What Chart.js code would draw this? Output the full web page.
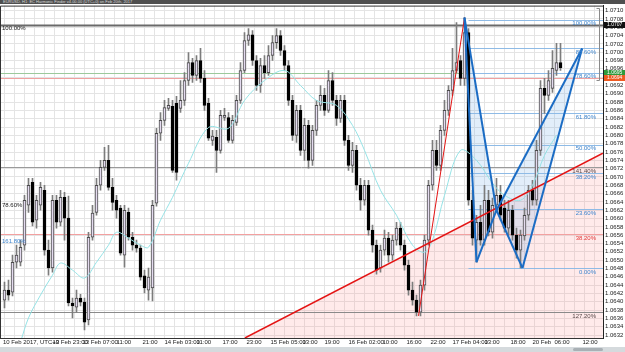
<!DOCTYPE html>
<html>
<head>
<meta charset="utf-8">
<script src="https://cdn.jsdelivr.net/npm/chart.js@4.4.1/dist/chart.umd.min.js"></script>
<style>
  html, body { margin: 0; padding: 0; background: #fff; }
  #wrap { position: relative; width: 625px; height: 352px; overflow: hidden; }
  #title { position: absolute; left: 0; top: 0; width: 625px; height: 4px; background: #4f4f4f; color: #d8d8d8;
           font: 4px 'Liberation Sans', sans-serif; line-height: 4px; padding-left: 3px; box-sizing: border-box; white-space: nowrap; }
  #scroll { position: absolute; left: 0; top: 347px; width: 625px; height: 5px; background: #d5dadd; }
  #thumb { position: absolute; left: 573px; top: 1px; width: 30px; height: 3px; background: #a9b0b5; border-radius: 2px; }
</style>
</head>
<body>
<div id="wrap">
  <canvas id="chart" width="625" height="352"></canvas>
  <div id="title">EURUSD, H1: EC Harmonic Finder v4.00.00 (UTC+0) on Feb 20th, 2017</div>
  <div id="scroll"><div id="thumb"></div></div>
</div>
<script>
// hourly candles, index 0 = first bar on the left
const open = [
  1.06404, 1.06428, 1.06423, 1.06495, 1.06495, 1.06536, 1.06632, 1.06687, 1.06596, 1.06632,
  1.06668, 1.06524, 1.06481, 1.06644, 1.06591, 1.06651, 1.06601, 1.06397, 1.06387, 1.06409,
  1.06399, 1.06356, 1.06555, 1.06615, 1.06680, 1.06723, 1.06740, 1.06675, 1.06644, 1.06625,
  1.06512, 1.06615, 1.06555, 1.06536, 1.06529, 1.06462, 1.06428, 1.06433, 1.06637, 1.06805,
  1.06836, 1.06865, 1.06870, 1.06877, 1.06865, 1.06884, 1.06932, 1.06975, 1.06944, 1.06980,
  1.06937, 1.06877, 1.06788, 1.06795, 1.06764, 1.06843, 1.06843, 1.06788, 1.06831, 1.06884,
  1.06956, 1.07028, 1.07042, 1.06980, 1.06920, 1.06968, 1.06951, 1.06992, 1.07023, 1.07040,
  1.07004, 1.06968, 1.06884, 1.06800, 1.06860, 1.06764, 1.06824, 1.06740, 1.06812, 1.06872,
  1.06896, 1.06860, 1.06932, 1.06884, 1.06841, 1.06884, 1.06788, 1.06728, 1.06764, 1.06680,
  1.06644, 1.06680, 1.06572, 1.06536, 1.06481, 1.06524, 1.06553, 1.06512, 1.06548, 1.06577,
  1.06536, 1.06488, 1.06428, 1.06404, 1.06375, 1.06440, 1.06548, 1.06680, 1.06764, 1.06728,
  1.06812, 1.06860, 1.06908, 1.06956, 1.06980, 1.06937, 1.07047, 1.06644, 1.06548, 1.06591,
  1.06548, 1.06644, 1.06567, 1.06632, 1.06656, 1.06625, 1.06577, 1.06620, 1.06560, 1.06524,
  1.06558, 1.06608, 1.06668, 1.06644, 1.06764, 1.06913, 1.06896, 1.06913, 1.06956, 1.06975
];
const high = [
  1.06447, 1.06452, 1.06512, 1.06536, 1.06548, 1.06656, 1.06697, 1.06697, 1.06656, 1.06687,
  1.06680, 1.06548, 1.06656, 1.06656, 1.06668, 1.06663, 1.06654, 1.06409, 1.06428, 1.06418,
  1.06409, 1.06567, 1.06632, 1.06697, 1.06740, 1.06771, 1.06776, 1.06697, 1.06656, 1.06632,
  1.06632, 1.06625, 1.06567, 1.06548, 1.06536, 1.06476, 1.06481, 1.06644, 1.06817, 1.06855,
  1.06884, 1.06889, 1.06884, 1.06894, 1.06932, 1.06951, 1.06999, 1.06985, 1.06992, 1.07009,
  1.06956, 1.06889, 1.06812, 1.06812, 1.06860, 1.06865, 1.06855, 1.06848, 1.06896, 1.06975,
  1.07047, 1.07057, 1.07052, 1.06992, 1.06985, 1.06992, 1.07016, 1.07040, 1.07057, 1.07052,
  1.07016, 1.06980, 1.06896, 1.06872, 1.06872, 1.06841, 1.06836, 1.06824, 1.06884, 1.06920,
  1.06913, 1.06956, 1.06951, 1.06896, 1.06896, 1.06896, 1.06800, 1.06783, 1.06776, 1.06697,
  1.06692, 1.06692, 1.06584, 1.06548, 1.06536, 1.06572, 1.06567, 1.06560, 1.06591, 1.06591,
  1.06548, 1.06500, 1.06447, 1.06416, 1.06452, 1.06560, 1.06692, 1.06788, 1.06788, 1.06824,
  1.06884, 1.06920, 1.07009, 1.07071, 1.06992, 1.07083, 1.07057, 1.06668, 1.06608, 1.06632,
  1.06680, 1.06668, 1.06649, 1.06697, 1.06680, 1.06644, 1.06644, 1.06632, 1.06577, 1.06572,
  1.06625, 1.06680, 1.06692, 1.06788, 1.06932, 1.06937, 1.06956, 1.07004, 1.07021, 1.07021
];
const low = [
  1.06385, 1.06404, 1.06414, 1.06481, 1.06486, 1.06524, 1.06615, 1.06582, 1.06577, 1.06620,
  1.06512, 1.06464, 1.06471, 1.06577, 1.06582, 1.06548, 1.06390, 1.06361, 1.06375, 1.06390,
  1.06332, 1.06344, 1.06548, 1.06608, 1.06668, 1.06716, 1.06668, 1.06620, 1.06601, 1.06512,
  1.06483, 1.06548, 1.06524, 1.06519, 1.06452, 1.06421, 1.06404, 1.06402, 1.06630, 1.06788,
  1.06824, 1.06860, 1.06711, 1.06692, 1.06855, 1.06872, 1.06920, 1.06927, 1.06932, 1.06927,
  1.06860, 1.06788, 1.06776, 1.06711, 1.06757, 1.06836, 1.06783, 1.06781, 1.06824, 1.06877,
  1.06951, 1.07016, 1.06968, 1.06908, 1.06903, 1.06937, 1.06944, 1.06980, 1.07009, 1.06992,
  1.06956, 1.06872, 1.06788, 1.06783, 1.06752, 1.06740, 1.06721, 1.06728, 1.06800, 1.06860,
  1.06848, 1.06855, 1.06872, 1.06824, 1.06831, 1.06776, 1.06716, 1.06711, 1.06668, 1.06620,
  1.06632, 1.06560, 1.06519, 1.06466, 1.06471, 1.06512, 1.06495, 1.06500, 1.06536, 1.06524,
  1.06476, 1.06416, 1.06392, 1.06366, 1.06366, 1.06428, 1.06536, 1.06668, 1.06716, 1.06716,
  1.06800, 1.06848, 1.06896, 1.06951, 1.06920, 1.06920, 1.06632, 1.06536, 1.06495, 1.06536,
  1.06536, 1.06558, 1.06553, 1.06615, 1.06596, 1.06567, 1.06560, 1.06548, 1.06505, 1.06481,
  1.06548, 1.06596, 1.06632, 1.06632, 1.06752, 1.06853, 1.06884, 1.06903, 1.06944, 1.06956
];
const close = [
  1.06428, 1.06416, 1.06495, 1.06512, 1.06531, 1.06644, 1.06680, 1.06591, 1.06644, 1.06675,
  1.06524, 1.06481, 1.06644, 1.06591, 1.06651, 1.06601, 1.06397, 1.06390, 1.06409, 1.06399,
  1.06351, 1.06555, 1.06613, 1.06680, 1.06723, 1.06740, 1.06675, 1.06639, 1.06620, 1.06517,
  1.06620, 1.06555, 1.06536, 1.06529, 1.06459, 1.06433, 1.06459, 1.06632, 1.06805, 1.06836,
  1.06867, 1.06872, 1.06716, 1.06711, 1.06884, 1.06932, 1.06975, 1.06944, 1.06980, 1.06937,
  1.06872, 1.06793, 1.06798, 1.06764, 1.06848, 1.06848, 1.06788, 1.06836, 1.06884, 1.06956,
  1.07028, 1.07042, 1.06980, 1.06920, 1.06968, 1.06951, 1.06992, 1.07023, 1.07040, 1.07004,
  1.06968, 1.06884, 1.06800, 1.06860, 1.06764, 1.06824, 1.06740, 1.06812, 1.06872, 1.06896,
  1.06860, 1.06932, 1.06884, 1.06841, 1.06884, 1.06788, 1.06728, 1.06764, 1.06680, 1.06644,
  1.06680, 1.06572, 1.06536, 1.06476, 1.06524, 1.06553, 1.06512, 1.06548, 1.06577, 1.06536,
  1.06488, 1.06428, 1.06404, 1.06375, 1.06440, 1.06548, 1.06680, 1.06764, 1.06728, 1.06812,
  1.06860, 1.06908, 1.06956, 1.06975, 1.06937, 1.07047, 1.06644, 1.06553, 1.06591, 1.06548,
  1.06644, 1.06567, 1.06632, 1.06656, 1.06608, 1.06577, 1.06620, 1.06560, 1.06524, 1.06560,
  1.06608, 1.06668, 1.06644, 1.06764, 1.06913, 1.06896, 1.06932, 1.06961, 1.06975, 1.06963
];

// moving average, read at a few bars
const maIdx = [4, 6, 9, 12, 14, 17, 20, 23, 26, 28, 31, 34, 36, 39, 42, 46, 51, 56, 60, 65,
  70, 74, 78, 83, 87, 90, 94, 98, 102, 105, 107, 110, 114, 118, 122, 125, 129, 132, 135, 138];
const maPrice = [1.06303, 1.06361, 1.06416, 1.06464, 1.06493, 1.06476, 1.06457, 1.06495, 1.06536, 1.06567,
  1.06553, 1.06536, 1.06531, 1.06596, 1.06651, 1.06733, 1.06819, 1.06817, 1.06884, 1.06932,
  1.06956, 1.06920, 1.06884, 1.06872, 1.06824, 1.06764, 1.06668, 1.06608, 1.06536, 1.06519,
  1.06548, 1.06656, 1.06764, 1.06740, 1.06685, 1.06656, 1.06644, 1.06680, 1.06752, 1.06800];

// time axis labels (bar position of each label)
const timePos = [-0.4, 12, 19.5, 28, 34.5, 40, 48, 54.5, 60.5, 66.5, 74.5, 80, 86, 94.5, 100.5, 106.5,
  112, 120, 126.5, 132, 137.5, 144.5];
const timeLabels = ['10 Feb 2017, UTC+0', '13 Feb 23:00', '13 Feb 07:00', '11:00', '21:00', '14 Feb 03:00',
  '11:00', '17:00', '23:00', '15 Feb 05:00', '13:00', '19:00', '16 Feb 02:00', '10:00', '16:00', '22:00',
  '17 Feb 04:00', '13:00', '18:00', '20 Feb', '06:00', '12:00'];

// harmonic pattern X, A, B, C, D
const patIdx = [115, 118, 123, 129.5, 144.4];
const patPrice = [1.07083, 1.06495, 1.06620, 1.06481, 1.07009];

// retracement levels of the pattern
const fibLabels = ['100.00%', '88.60%', '78.60%', '61.80%', '50.00%', '38.20%', '23.60%', '0.00%'];
const fibPrice = [1.07078, 1.07009, 1.06951, 1.06853, 1.06778, 1.06709, 1.06622, 1.06481];

// full width levels
const extLabels = ['141.40%', '38.20%', '127.20%'];
const extPrice = [1.06723, 1.06562, 1.06375];
const leftLabels = ['100.00%', '78.60%', '161.80%'];
const leftPrice = [1.07057, 1.06632, 1.06546];
const topLine = 1.07066;
const bidPrice = 1.06951;
const askPrice = 1.06939;

// price range marker at the right edge
const rangeTop = 1.07107;
const rangeBottom = 1.06932;

// trend lines
const trendIdx = [60.1, 149.6];
const trendPrice = [1.06313, 1.06757];
const legIdx = [103.5, 115];
const legPrice = [1.06366, 1.07083];

const bull = open.map((o, i) => close[i] >= o);

const overlay = {
  id: 'overlay',
  beforeDatasetsDraw(chart) {
    const {ctx, chartArea: a, scales: {x, y}} = chart;
    const X = v => x.getPixelForValue(v);
    const Y = v => Math.round(y.getPixelForValue(v)) + 0.5;
    ctx.save();
    ctx.beginPath();
    ctx.rect(a.left, a.top, a.width, a.height);
    ctx.clip();

    // pink zone under the long trend line
    ctx.fillStyle = 'rgba(255,150,150,0.2)';
    ctx.beginPath();
    ctx.moveTo(X(trendIdx[0]), y.getPixelForValue(trendPrice[0]));
    ctx.lineTo(X(trendIdx[1]), y.getPixelForValue(trendPrice[1]));
    ctx.lineTo(X(trendIdx[1]), a.bottom);
    ctx.lineTo(X(trendIdx[0]), a.bottom);
    ctx.fill();

    // pattern triangles
    ctx.fillStyle = 'rgba(110,170,230,0.2)';
    [[0, 1, 2], [2, 3, 4]].forEach(tri => {
      ctx.beginPath();
      tri.forEach((k, j) => {
        const fn = j ? 'lineTo' : 'moveTo';
        ctx[fn](X(patIdx[k]), y.getPixelForValue(patPrice[k]));
      });
      ctx.closePath();
      ctx.fill();
    });

    const hline = (x0, x1, v, color, w) => {
      ctx.strokeStyle = color;
      ctx.lineWidth = w;
      ctx.beginPath();
      ctx.moveTo(x0, Y(v));
      ctx.lineTo(x1, Y(v));
      ctx.stroke();
    };
    hline(a.left, a.right, topLine, '#6a6a6a', 2);
    hline(a.left, a.right, bidPrice, '#9cc99c', 1);
    hline(a.left, a.right, askPrice, '#f0a0a0', 1);
    const extColors = ['#9a9a9a', '#f3a0a0', '#8a8a8a'];
    extPrice.forEach((v, k) => hline(a.left, a.right, v, extColors[k], 1));
    fibPrice.forEach(v => hline(X(patIdx[0] + 1), a.right, v, '#8fbbe6', 1));
    ctx.restore();
  },
  afterDatasetsDraw(chart) {
    const {ctx, chartArea: a, scales: {x, y}} = chart;
    const X = v => x.getPixelForValue(v);
    const P = v => y.getPixelForValue(v);
    ctx.save();
    ctx.beginPath();
    ctx.rect(a.left, a.top, a.width, a.height);
    ctx.clip();

    // red lines
    ctx.strokeStyle = '#e41414';
    ctx.lineWidth = 1.6;
    ctx.beginPath();
    ctx.moveTo(X(trendIdx[0]), P(trendPrice[0]));
    ctx.lineTo(X(trendIdx[1]), P(trendPrice[1]));
    ctx.stroke();
    ctx.lineWidth = 1;
    ctx.beginPath();
    ctx.moveTo(X(legIdx[0]), P(legPrice[0]));
    ctx.lineTo(X(legIdx[1]), P(legPrice[1]));
    ctx.stroke();

    // pattern legs
    ctx.strokeStyle = '#1b6cc4';
    ctx.lineWidth = 2;
    [[0, 1], [1, 2], [2, 3], [3, 4], [0, 2], [2, 4]].forEach(([p, q]) => {
      ctx.beginPath();
      ctx.moveTo(X(patIdx[p]), P(patPrice[p]));
      ctx.lineTo(X(patIdx[q]), P(patPrice[q]));
      ctx.stroke();
    });

    // range marker
    const rx = Math.round(a.right) - 3.5;
    ctx.strokeStyle = '#8a8a8a';
    ctx.lineWidth = 1;
    ctx.beginPath();
    ctx.moveTo(rx - 3, Math.round(P(rangeTop)) + 0.5);
    ctx.lineTo(rx, Math.round(P(rangeTop)) + 0.5);
    ctx.lineTo(rx, Math.round(P(rangeBottom)) + 0.5);
    ctx.lineTo(rx - 3, Math.round(P(rangeBottom)) + 0.5);
    ctx.stroke();

    // level texts
    ctx.font = '6px "Liberation Sans", sans-serif';
    ctx.textBaseline = 'middle';
    ctx.textAlign = 'right';
    ctx.fillStyle = '#3f86cf';
    fibLabels.forEach((t, k) => ctx.fillText(t, a.right - 7, P(fibPrice[k]) + 4));
    const extText = ['#5a4a4a', '#e33a3a', '#5a4a4a'];
    extLabels.forEach((t, k) => {
      ctx.fillStyle = extText[k];
      ctx.fillText(t, a.right - 7, P(extPrice[k]) + 4);
    });
    ctx.textAlign = 'left';
    const leftText = ['#222', '#222', '#3f86cf'];
    leftLabels.forEach((t, k) => {
      ctx.fillStyle = leftText[k];
      ctx.fillText(t, a.left + 2, P(leftPrice[k]));
    });
    ctx.restore();
  },
  afterDraw(chart) {
    const {ctx, chartArea: a, scales: {y}} = chart;
    ctx.save();
    // frame
    ctx.strokeStyle = '#333';
    ctx.lineWidth = 1;
    ctx.beginPath();
    ctx.moveTo(a.left + 0.5, a.bottom);
    ctx.lineTo(a.left + 0.5, a.top + 0.5);
    ctx.lineTo(a.right, a.top + 0.5);
    ctx.stroke();
    // price boxes on the axis
    const box = (v, bg) => {
      const yy = Math.round(y.getPixelForValue(v));
      ctx.fillStyle = bg;
      ctx.fillRect(a.right + 1, yy - 3, 21, 6);
      ctx.fillStyle = '#fff';
      ctx.font = '5px "Liberation Sans", sans-serif';
      ctx.textAlign = 'left';
      ctx.textBaseline = 'middle';
      ctx.fillText(v.toFixed(4), a.right + 4, yy);
    };
    box(topLine, '#111');
    box(bidPrice, '#2f9a3c');
    box(askPrice, '#ef5a22');
    ctx.restore();
  }
};

new Chart(document.getElementById('chart'), {
  type: 'bar',
  data: {
    datasets: [
      {
        label: 'wick',
        data: open.map((_, i) => ({x: i, y: [low[i], high[i]]})),
        backgroundColor: '#7c7c7c',
        barThickness: 1,
        grouped: false,
        order: 3
      },
      {
        label: 'body',
        data: open.map((o, i) => ({x: i, y: [o, close[i]]})),
        backgroundColor: bull.map(b => (b ? '#e4dbef' : '#000')),
        borderColor: bull.map(b => (b ? '#4a4a4a' : '#000')),
        borderWidth: 1,
        borderSkipped: false,
        barThickness: 3,
        minBarLength: 1,
        grouped: false,
        order: 2
      },
      {
        type: 'line',
        label: 'MA',
        data: maIdx.map((v, i) => ({x: v, y: maPrice[i]})),
        borderColor: '#96e3e6',
        borderWidth: 1,
        pointRadius: 0,
        tension: 0.35,
        order: 1
      }
    ]
  },
  options: {
    responsive: false,
    animation: false,
    layout: {padding: {top: 5, left: 0, right: 0, bottom: 0}},
    plugins: {legend: {display: false}, tooltip: {enabled: false}},
    scales: {
      x: {
        type: 'linear',
        min: -1.125,
        max: 149.625,
        offset: false,
        weight: 0,
        grid: {color: '#e4e4e4', drawTicks: false, offset: false},
        border: {display: true, color: '#333'},
        ticks: {display: false, stepSize: 2.5, includeBounds: false},
        afterFit: s => { s.height = 0; }
      },
      xl: {
        type: 'linear',
        position: 'bottom',
        min: -1.125,
        max: 149.625,
        offset: false,
        weight: 1,
        grid: {display: false, drawTicks: false},
        border: {display: false},
        afterBuildTicks: s => { s.ticks = timePos.map(v => ({value: v})); },
        ticks: {
          autoSkip: false,
          maxRotation: 0,
          align: 'start',
          padding: 1,
          color: '#222',
          font: {size: 6, family: 'Liberation Sans'},
          callback: (v, i) => timeLabels[i]
        },
        afterFit: s => { s.height = 14; }
      },
      y: {
        type: 'linear',
        position: 'right',
        min: 1.063128,
        max: 1.07112,
        grid: {color: '#e4e4e4', drawTicks: false},
        border: {display: true, color: '#222'},
        ticks: {
          stepSize: 0.0002,
          includeBounds: false,
          autoSkip: false,
          padding: 2,
          color: '#222',
          font: {size: 6, family: 'Liberation Sans'},
          callback: v => v.toFixed(4)
        },
        afterFit: s => { s.width = 22; }
      }
    }
  },
  plugins: [overlay]
});
</script>
</body>
</html>
